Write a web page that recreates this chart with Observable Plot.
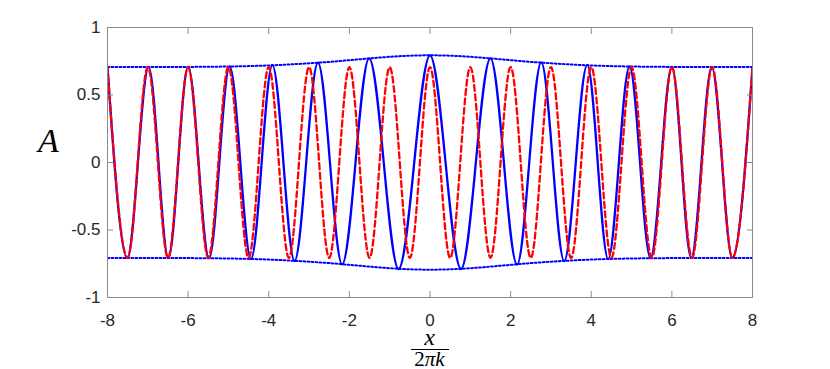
<!DOCTYPE html>
<html><head><meta charset="utf-8">
<script src="https://cdn.jsdelivr.net/npm/d3@7"></script>
<script src="https://cdn.jsdelivr.net/npm/@observablehq/plot@0.6"></script>
<style>
html,body{margin:0;padding:0;background:#fff;}
#wrap{position:relative;width:830px;height:369px;}
.lx{position:absolute;font-family:"Liberation Serif",serif;color:#000;line-height:0.6;white-space:nowrap;text-align:center;}
</style></head><body>
<div id="wrap"></div>
<script>
const xTicks = [-8, -6, -4, -2, 0, 2, 4, 6, 8];
const yTicks = [-1, -0.5, 0, 0.5, 1];

// blue solid curve: extrema
const blueX = [-8, -7.51, -6.98, -6.49, -6.00, -5.48, -4.97, -4.44, -3.91, -3.36, -2.78, -2.18, -1.51, -0.78, 0,
               0.77, 1.50, 2.16, 2.76, 3.33, 3.90, 4.42, 4.95, 5.47, 6.00, 6.48, 6.99, 7.50, 8];
const blueY = [0.707, -0.707, 0.707, -0.707, 0.708, -0.709, 0.711, -0.715, 0.722, -0.729, 0.740, -0.755, 0.772, -0.789, 0.794,
               -0.789, 0.771, -0.756, 0.741, -0.730, 0.723, -0.715, 0.711, -0.709, 0.708, -0.707, 0.707, -0.707, 0.707];

// red dashed curve: extrema
const redX = [-8, -7.5, -7, -6.5, -6, -5.5, -5, -4.5, -4, -3.5, -3, -2.5, -2, -1.5, -1, -0.5, 0,
              0.5, 1, 1.5, 2, 2.5, 3, 3.5, 4, 4.5, 5, 5.5, 6, 6.5, 7, 7.5, 8];
const redY = [0.707, -0.707, 0.707, -0.707, 0.707, -0.707, 0.707, -0.707, 0.707, -0.707, 0.707, -0.707, 0.707, -0.707, 0.707, -0.707, 0.707,
              -0.707, 0.707, -0.707, 0.707, -0.707, 0.707, -0.707, 0.707, -0.707, 0.707, -0.707, 0.707, -0.707, 0.707, -0.707, 0.707];

// dotted envelope
const envX = [-8, -7, -6, -5, -4.5, -4, -3.5, -3, -2.5, -2, -1.5, -1, -0.5, 0, 0.5, 1, 1.5, 2, 2.5, 3, 3.5, 4, 4.5, 5, 6, 7, 8];
const envUpper = [0.707, 0.707, 0.708, 0.711, 0.714, 0.719, 0.726, 0.735, 0.745, 0.758, 0.771, 0.783, 0.791, 0.794,
                  0.791, 0.783, 0.771, 0.758, 0.745, 0.735, 0.726, 0.719, 0.714, 0.711, 0.708, 0.707, 0.707];
const envLower = [-0.707, -0.707, -0.708, -0.711, -0.714, -0.719, -0.726, -0.735, -0.745, -0.758, -0.771, -0.783, -0.791, -0.794,
                  -0.791, -0.783, -0.771, -0.758, -0.745, -0.735, -0.726, -0.719, -0.714, -0.711, -0.708, -0.707, -0.707];

const blue = blueX.map((x, i) => ({x, y: blueY[i]}));
const red = redX.map((x, i) => ({x, y: redY[i]}));
const up = envX.map((x, i) => ({x, y: envUpper[i]}));
const lo = envX.map((x, i) => ({x, y: envLower[i]}));

const axisColor = "#8c8c8c";
const labelColor = "#262626";

const plot = Plot.plot({
  width: 830, height: 369,
  marginLeft: 107, marginRight: 78, marginTop: 27, marginBottom: 72,
  style: {background: "#fff", overflow: "visible", fontFamily: "'Liberation Sans', Arial, sans-serif", fontSize: "17px"},
  x: {domain: [-8, 8]},
  y: {domain: [-1, 1]},
  marks: [
    Plot.line(up, {x: "x", y: "y", stroke: "#0000ff", strokeWidth: 2, strokeDasharray: "1.8,2.2", curve: "monotone-x", clip: true}),
    Plot.line(lo, {x: "x", y: "y", stroke: "#0000ff", strokeWidth: 2, strokeDasharray: "1.8,2.2", curve: "monotone-x", clip: true}),
    Plot.line(blue, {x: "x", y: "y", stroke: "#0000ff", strokeWidth: 2.3, curve: "monotone-x", clip: true}),
    Plot.line(red, {x: "x", y: "y", stroke: "#ff0000", strokeWidth: 2.3, strokeDasharray: "6,3.5", curve: "monotone-x", clip: true}),
    Plot.frame({stroke: axisColor}),
    Plot.axisX(xTicks, {anchor: "bottom", tickSize: 6, dy: -6, fill: "none", stroke: axisColor, label: null}),
    Plot.axisX(xTicks, {anchor: "top", tickSize: 6, dy: 6, fill: "none", stroke: axisColor, label: null}),
    Plot.axisY(yTicks, {anchor: "left", tickSize: 6, dx: 6, fill: "none", stroke: axisColor, label: null}),
    Plot.axisY(yTicks, {anchor: "right", tickSize: 6, dx: -6, fill: "none", stroke: axisColor, label: null}),
    Plot.axisX(xTicks, {anchor: "bottom", tickSize: 0, tickPadding: 16, stroke: "none", fill: labelColor, label: null, tickFormat: d => String(d)}),
    Plot.axisY(yTicks, {anchor: "left", tickSize: 0, tickPadding: 7, stroke: "none", fill: labelColor, label: null, tickFormat: d => String(d)}),
    Plot.text(["A"], {text: d => d, frameAnchor: "left", dx: -59, dy: -21, fontSize: 34, fontStyle: "italic", fontFamily: "'Liberation Serif', serif", textAnchor: "middle", fill: "#000"})
  ]
});

const wrap = document.getElementById("wrap");
wrap.appendChild(plot);

const xl = document.createElement("div");
xl.className = "lx"; xl.style.left = "409.5px"; xl.style.width = "40px"; xl.style.top = "329.7px";
xl.style.fontSize = "24px"; xl.style.fontStyle = "italic"; xl.textContent = "x";
wrap.appendChild(xl);

const bar = document.createElement("div");
bar.style.cssText = "position:absolute;left:410.5px;top:349px;width:38.5px;height:1px;background:#000;";
wrap.appendChild(bar);

const den = document.createElement("div");
den.className = "lx"; den.style.left = "409.5px"; den.style.width = "40px"; den.style.top = "352.6px";
den.style.fontSize = "21px";
den.innerHTML = "2<i>πk</i>";
wrap.appendChild(den);
</script>
</body></html>
